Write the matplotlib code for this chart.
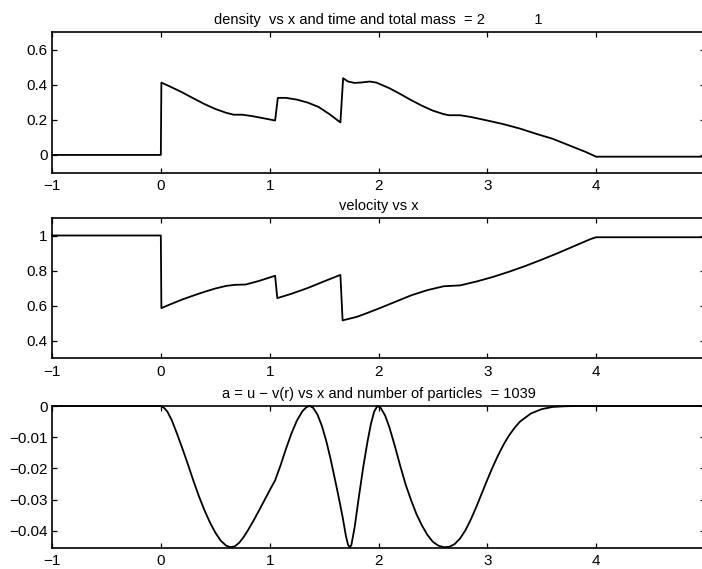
import numpy as np
import matplotlib.pyplot as plt

plt.rcParams['font.family'] = ['Liberation Sans', 'DejaVu Sans']

# density vs x
dens_x = [-1, 0, 0.005, 0.1, 0.2, 0.3, 0.4, 0.5, 0.6, 0.67, 0.75, 0.85, 0.95, 1.05,
          1.075, 1.15, 1.25, 1.35, 1.45, 1.55, 1.65, 1.675, 1.72, 1.78, 1.85, 1.92,
          1.98, 2.1, 2.2, 2.3, 2.4, 2.5, 2.6, 2.65, 2.75, 2.85, 3.0, 3.15, 3.3, 3.45,
          3.6, 3.75, 3.9, 4.0, 5.0]
dens_y = [0, 0, 0.412, 0.385, 0.355, 0.322, 0.29, 0.262, 0.24, 0.229, 0.229, 0.22,
          0.208, 0.196, 0.325, 0.325, 0.315, 0.298, 0.273, 0.232, 0.185, 0.437, 0.418,
          0.41, 0.413, 0.418, 0.412, 0.38, 0.347, 0.312, 0.28, 0.252, 0.232, 0.226,
          0.226, 0.216, 0.196, 0.175, 0.15, 0.12, 0.092, 0.055, 0.018, -0.01, -0.01]

# velocity vs x
vel_x = [-1, 0, 0.005, 0.1, 0.2, 0.3, 0.4, 0.5, 0.6, 0.68, 0.78, 0.9, 1.05, 1.07,
         1.2, 1.35, 1.5, 1.65, 1.67, 1.8, 1.9, 2.0, 2.15, 2.3, 2.45, 2.6, 2.75, 2.9,
         3.05, 3.2, 3.35, 3.5, 3.65, 3.8, 3.95, 4.0, 5.0]
vel_y = [1, 1, 0.585, 0.61, 0.635, 0.657, 0.678, 0.697, 0.712, 0.718, 0.72, 0.74,
         0.77, 0.642, 0.667, 0.7, 0.738, 0.775, 0.515, 0.535, 0.558, 0.582, 0.62,
         0.658, 0.688, 0.71, 0.715, 0.737, 0.763, 0.793, 0.826, 0.862, 0.9, 0.94,
         0.98, 0.99, 0.99]

# a = u - v(r) vs x
a_x = [-1, 0, 0.03, 0.06, 0.1, 0.15, 0.2, 0.25, 0.3, 0.35, 0.4, 0.45, 0.5, 0.55,
       0.6, 0.64, 0.68, 0.72, 0.76, 0.8, 0.85, 0.9, 0.95, 1.0, 1.05, 1.1, 1.15, 1.2,
       1.25, 1.3, 1.34, 1.37, 1.4, 1.44, 1.48, 1.52, 1.56, 1.6, 1.64, 1.67, 1.7,
       1.72, 1.735, 1.75, 1.78, 1.82, 1.86, 1.9, 1.93, 1.96, 1.99, 2.02, 2.06, 2.1,
       2.15, 2.2, 2.25, 2.3, 2.35, 2.4, 2.45, 2.5, 2.55, 2.6, 2.65, 2.7, 2.75, 2.8,
       2.85, 2.9, 2.95, 3.0, 3.05, 3.1, 3.15, 3.2, 3.25, 3.3, 3.4, 3.5, 3.6, 3.7,
       3.8, 5.0]
a_y = [0, 0, -0.0006, -0.0018, -0.0045, -0.009, -0.0138, -0.0188, -0.024, -0.0289,
       -0.0333, -0.0372, -0.0405, -0.0431, -0.0447, -0.0452, -0.0449, -0.0438,
       -0.042, -0.0398, -0.0368, -0.0336, -0.0303, -0.027, -0.0238, -0.019,
       -0.0137, -0.0088, -0.0047, -0.0017, -0.0003, 0, -0.0006, -0.0028, -0.0064,
       -0.0112, -0.017, -0.0235, -0.0302, -0.0355, -0.0415, -0.0444, -0.0452,
       -0.0446, -0.039, -0.029, -0.0195, -0.0112, -0.0058, -0.0018, 0, -0.0006,
       -0.003, -0.0068, -0.0128, -0.0192, -0.0252, -0.0302, -0.0347, -0.0383,
       -0.0413, -0.0435, -0.0447, -0.0452, -0.0451, -0.0442, -0.0424, -0.0397,
       -0.0362, -0.0322, -0.0279, -0.0236, -0.0195, -0.0157, -0.0123, -0.0094,
       -0.007, -0.005, -0.0024, -0.001, -0.0003, -0.0001, 0, 0]

x_ticks = [-1, 0, 1, 2, 3, 4]
x_labels = ['\u22121', '0', '1', '2', '3', '4']

fig = plt.figure(figsize=(7.02, 5.69), dpi=100)
H = 569.0
L = 52 / 702
W = (705 - 52) / 702

panels = [
    (32, 172.5, dens_x, dens_y, (-0.1, 0.7), [0, 0.2, 0.4, 0.6], ['0', '0.2', '0.4', '0.6'],
     'density  vs x and time and total mass  = 2            1'),
    (218, 358, vel_x, vel_y, (0.3, 1.1), [0.4, 0.6, 0.8, 1.0], ['0.4', '0.6', '0.8', '1'],
     'velocity vs x'),
    (406, 547.5, a_x, a_y, (-0.0453, 0), [-0.04, -0.03, -0.02, -0.01, 0],
     ['\u22120.04', '\u22120.03', '\u22120.02', '\u22120.01', '0'],
     'a = u \u2212 v(r) vs x and number of particles  = 1039'),
]

for top, bot, xs, ys, ylim, yt, ytl, title in panels:
    ax = fig.add_axes([L, 1 - bot / H, W, (bot - top) / H])
    ax.plot(xs, ys, color='black', linewidth=1.3, clip_on=False)
    ax.set_xlim(-1, 5)
    ax.set_ylim(*ylim)
    ax.set_xticks(x_ticks)
    ax.set_xticklabels(x_labels)
    ax.set_yticks(yt)
    ax.set_yticklabels(ytl)
    ax.tick_params(direction='in', length=3.5, width=0.9, top=True, right=True,
                   labelsize=11, colors='black')
    ax.tick_params(axis='x', pad=5)
    ax.tick_params(axis='y', pad=3)
    for s in ax.spines.values():
        s.set_linewidth(1.2)
    ax.set_title(title, fontsize=10.5, pad=6)

fig.savefig('out.png', dpi=100)
